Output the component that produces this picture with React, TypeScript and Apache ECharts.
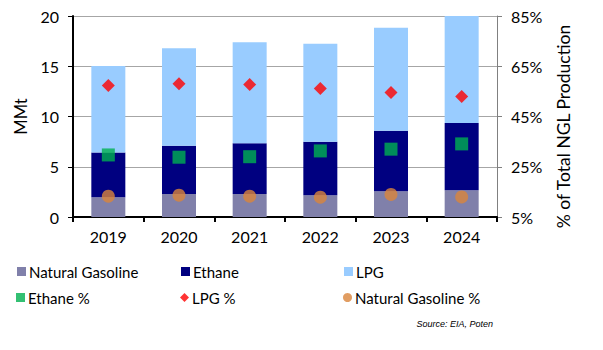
import React, { useEffect, useRef } from "react";
import * as echarts from "echarts";

const categories = ["2019", "2020", "2021", "2022", "2023", "2024"];
const naturalGasoline = [1.97, 2.3, 2.3, 2.17, 2.57, 2.67];
const ethane = [4.45, 4.8, 5.03, 5.33, 6.0, 6.68];
const lpg = [8.6, 9.7, 10.07, 9.74, 10.26, 10.65];
const ethanePct = [29.7, 28.8, 29.0, 31.3, 32.0, 34.1];
const lpgPct = [57.3, 58.0, 57.7, 56.1, 54.6, 53.0];
const ngPct = [13.3, 13.7, 13.3, 12.9, 14.0, 13.0];

const FONT = "Lato";

export default function App() {
  const ref = useRef<HTMLDivElement>(null);
  useEffect(() => {
    if (!ref.current) return;
    const chart = echarts.init(ref.current, null, { renderer: "svg" });
    const legendItem = (name: string, left: number, top: number, icon: string) => ({
      show: true,
      left,
      top,
      icon,
      itemWidth: 9,
      itemHeight: 9,
      itemGap: 0,
      padding: 0,
      data: [{ name, icon }],
      textStyle: { fontFamily: FONT, fontSize: 15, color: "#000", padding: [0, 0, 0, -2] },
      selectedMode: false,
    });
    chart.setOption({
      animation: false,
      textStyle: { fontFamily: FONT },
      grid: { left: 73, right: 106, top: 16, bottom: 133, containLabel: false },
      legend: [
        legendItem("Natural Gasoline", 17, 264, "rect"),
        legendItem("Ethane", 181, 264, "rect"),
        legendItem("LPG", 344, 264, "rect"),
        legendItem("Ethane %", 16, 290, "rect"),
        legendItem("LPG %", 180, 290, "diamond"),
        legendItem("Natural Gasoline %", 343, 290, "circle"),
      ],
      xAxis: {
        type: "category",
        data: categories,
        axisLine: { lineStyle: { color: "#000", width: 2 } },
        axisTick: { show: true, length: 5, lineStyle: { color: "#000", width: 2 } },
        axisLabel: { fontFamily: FONT, fontSize: 16, color: "#000", margin: 11 },
      },
      yAxis: [
        {
          type: "value",
          min: 0,
          max: 20,
          interval: 5,
          name: "MMt",
          nameLocation: "middle",
          nameGap: 44,
          nameTextStyle: { fontFamily: FONT, fontSize: 16.5, color: "#000" },
          axisLine: { show: true, lineStyle: { color: "#000", width: 2 } },
          axisTick: { show: true, length: 5, lineStyle: { color: "#000", width: 1 } },
          axisLabel: { fontFamily: FONT, fontSize: 16, color: "#000", margin: 14 },
          splitLine: { show: true, lineStyle: { color: "#A6A6A6", width: 1 } },
        },
        {
          type: "value",
          min: 5,
          max: 85,
          interval: 20,
          position: "right",
          name: "% of Total NGL Production",
          nameLocation: "middle",
          nameGap: 57,
          nameTextStyle: { fontFamily: FONT, fontSize: 17.5, color: "#000", padding: [0, 20, 0, 0] },
          axisLine: { show: true, lineStyle: { color: "#808080", width: 1 } },
          axisTick: { show: true, length: 5, lineStyle: { color: "#808080", width: 1 } },
          axisLabel: { fontFamily: FONT, fontSize: 16, color: "#000", margin: 14, formatter: "{value}%" },
          splitLine: { show: false },
        },
      ],
      series: [
        {
          name: "Natural Gasoline",
          type: "bar",
          stack: "total",
          barWidth: 34,
          data: naturalGasoline,
          itemStyle: { color: "#8080AA" },
        },
        {
          name: "Ethane",
          type: "bar",
          stack: "total",
          barWidth: 34,
          data: ethane,
          itemStyle: { color: "#000080" },
        },
        {
          name: "LPG",
          type: "bar",
          stack: "total",
          barWidth: 34,
          data: lpg,
          itemStyle: { color: "#99CCFF" },
        },
        {
          name: "Ethane %",
          type: "scatter",
          yAxisIndex: 1,
          symbol: "rect",
          symbolSize: 13,
          data: ethanePct,
          itemStyle: { color: "#00B050" },
          z: 5,
        },
        {
          name: "LPG %",
          type: "scatter",
          yAxisIndex: 1,
          symbol: "diamond",
          symbolSize: 13,
          data: lpgPct,
          itemStyle: { color: "#FF0000" },
          z: 5,
        },
        {
          name: "Natural Gasoline %",
          type: "scatter",
          yAxisIndex: 1,
          symbol: "circle",
          symbolSize: 13,
          data: ngPct,
          itemStyle: { color: "#D9843B" },
          z: 5,
        },
      ],
      graphic: [
        {
          type: "text",
          right: 110,
          top: 319,
          style: {
            text: "Source: EIA, Poten",
            fontFamily: "Liberation Sans Narrow, Liberation Sans",
            fontStyle: "italic",
            fontSize: 9,
            fill: "#000",
          },
        },
      ],
    });
    return () => chart.dispose();
  }, []);
  return <div ref={ref} style={{ width: 603, height: 350, position: "absolute", left: 0, top: 0 }} />;
}
